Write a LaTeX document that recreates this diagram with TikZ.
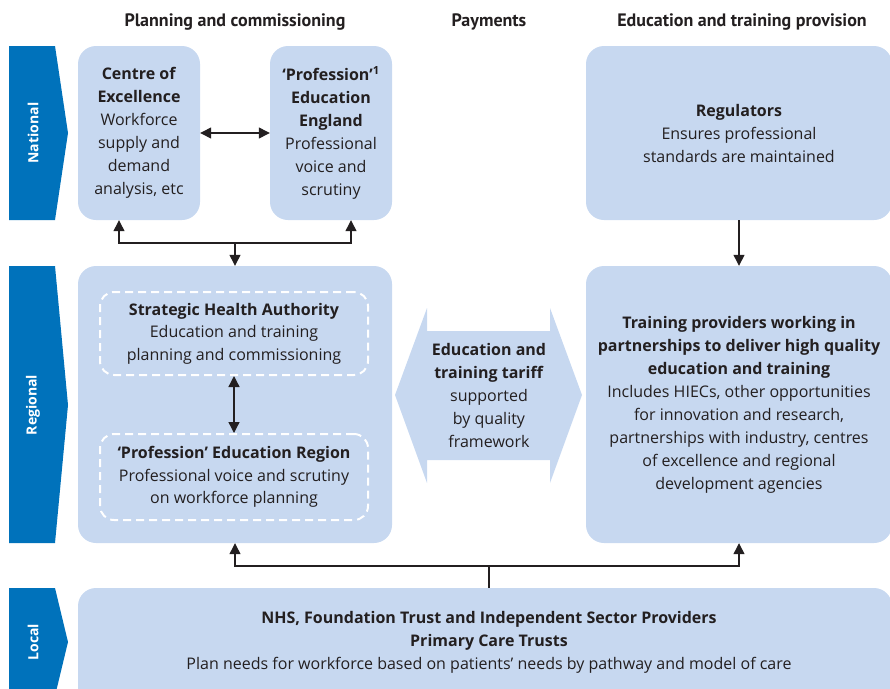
\documentclass[tikz,border=0pt]{standalone}
\usepackage{fontspec}
\setmainfont{Open Sans}
\newfontfamily\headfont{PT Sans}
\usetikzlibrary{arrows.meta}
\definecolor{banner}{RGB}{0,114,187}
\definecolor{boxfill}{RGB}{199,216,240}
\definecolor{ink}{RGB}{35,31,32}
\tikzset{
  box/.style={fill=boxfill, rounded corners=18pt, text=ink, align=center,
    font=\fontsize{16}{23}\selectfont, inner sep=0pt},
  dbox/.style={draw=white, line width=2pt, dash pattern=on 8pt off 5pt,
    rounded corners=14pt, text=ink, align=center,
    font=\fontsize{16}{22.5}\selectfont, inner sep=0pt},
  txt/.style={text=ink, align=center, font=\fontsize{16}{23}\selectfont, inner sep=0pt},
  head/.style={text=ink, font=\headfont\bfseries\fontsize{18}{20}\selectfont, inner sep=0pt},
  bannerlbl/.style={text=white, rotate=90, font=\bfseries\fontsize{14}{16}\selectfont, inner sep=0pt},
  conn/.style={draw=ink, line width=1.3pt},
  arr/.style={conn, -{Triangle[length=11pt,width=11pt]}},
  arrtwo/.style={conn, {Triangle[length=11pt,width=11pt]}-{Triangle[length=11pt,width=11pt]}}
}
\begin{document}
\begin{tikzpicture}[x=1pt,y=-1pt]
\useasboundingbox (0,0) rectangle (890,688);

% headers
\node[head] (h1) at (235,22) {Planning and commissioning};
\node[head] (h2) at (489,22) {Payments};
\node[head] (h3) at (742,22) {Education and training provision};

% banners
\fill[banner] (9,46) -- (55,46) -- (68,133) -- (55,220) -- (9,220) -- cycle;
\fill[banner] (9,266) -- (55,266) -- (68,405) -- (55,543) -- (9,543) -- cycle;
\fill[banner] (9,588) -- (55,588) -- (68,642) -- (55,696) -- (9,696) -- cycle;
\node[bannerlbl] (bn) at (33,133) {National};
\node[bannerlbl] (br) at (33,405) {Regional};
\node[bannerlbl] (bl) at (33,642) {Local};

% national boxes
\node[box, minimum width=122pt, minimum height=174pt] (centre) at (139,133)
  {\textbf{Centre of}\\ \textbf{Excellence}\\ Workforce\\ supply and\\ demand\\ analysis, etc};
\node[box, minimum width=122pt, minimum height=174pt] (profeng) at (331,133)
  {\textbf{‘Profession’\textsuperscript{1}}\\ \textbf{Education}\\ \textbf{England}\\ Professional\\ voice and\\ scrutiny};
\node[box, minimum width=306pt, minimum height=174pt] (regulators) at (739,133)
  {\textbf{Regulators}\\ Ensures professional\\ standards are maintained};

% regional boxes
\node[box, minimum width=314pt, minimum height=277pt] (regional) at (235,404.5) {};
\node[dbox, minimum width=268pt, minimum height=83pt] (sha) at (234,333.5)
  {\textbf{Strategic Health Authority}\\ Education and training\\ planning and commissioning};
\node[dbox, minimum width=268pt, minimum height=86pt] (pr) at (234,477)
  {\textbf{‘Profession’ Education Region}\\ Professional voice and scrutiny\\ on workforce planning};
\node[box, minimum width=306pt, minimum height=277pt] (training) at (739,404.5)
  {\textbf{Training providers working in}\\ \textbf{partnerships to deliver high quality}\\ \textbf{education and training}\\
   Includes HIECs, other opportunities\\ for innovation and research,\\ partnerships with industry, centres\\
   of excellence and regional\\ development agencies};

% tariff double arrow
\fill[boxfill] (395,395) -- (427,308) -- (427,331) -- (550,331) -- (550,308) -- (582,395)
  -- (550,483) -- (550,460) -- (427,460) -- (427,483) -- cycle;
\node[txt] (tariff) at (489,395)
  {\textbf{Education and}\\ \textbf{training tariff}\\ supported\\ by quality\\ framework};

% local box
\node[box, minimum width=814pt, minimum height=130pt] (local) at (485,653) {};
\node[txt] (localtxt) at (489,642)
  {\textbf{NHS, Foundation Trust and Independent Sector Providers}\\ \textbf{Primary Care Trusts}\\
   Plan needs for workforce based on patients’ needs by pathway and model of care};

% connectors
\draw[arrtwo] (centre) -- (profeng);
\coordinate (j1) at (235,243);
\coordinate (cA) at ([xshift=-20pt]centre.south);
\coordinate (pA) at ([xshift=20pt]profeng.south);
\draw[arrtwo] (cA) |- (j1) -| (pA);
\draw[arr] (j1) -- (regional.north);
\draw[arr] (regulators.south) -- (training.north);
\draw[arrtwo] (sha) -- (pr);
\coordinate (j2) at (489,566);
\draw[conn] (j2) -- (j2 |- local.north);
\draw[arr] (j2) -| (regional.south);
\draw[arr] (j2) -| (training.south);
\end{tikzpicture}
\end{document}
